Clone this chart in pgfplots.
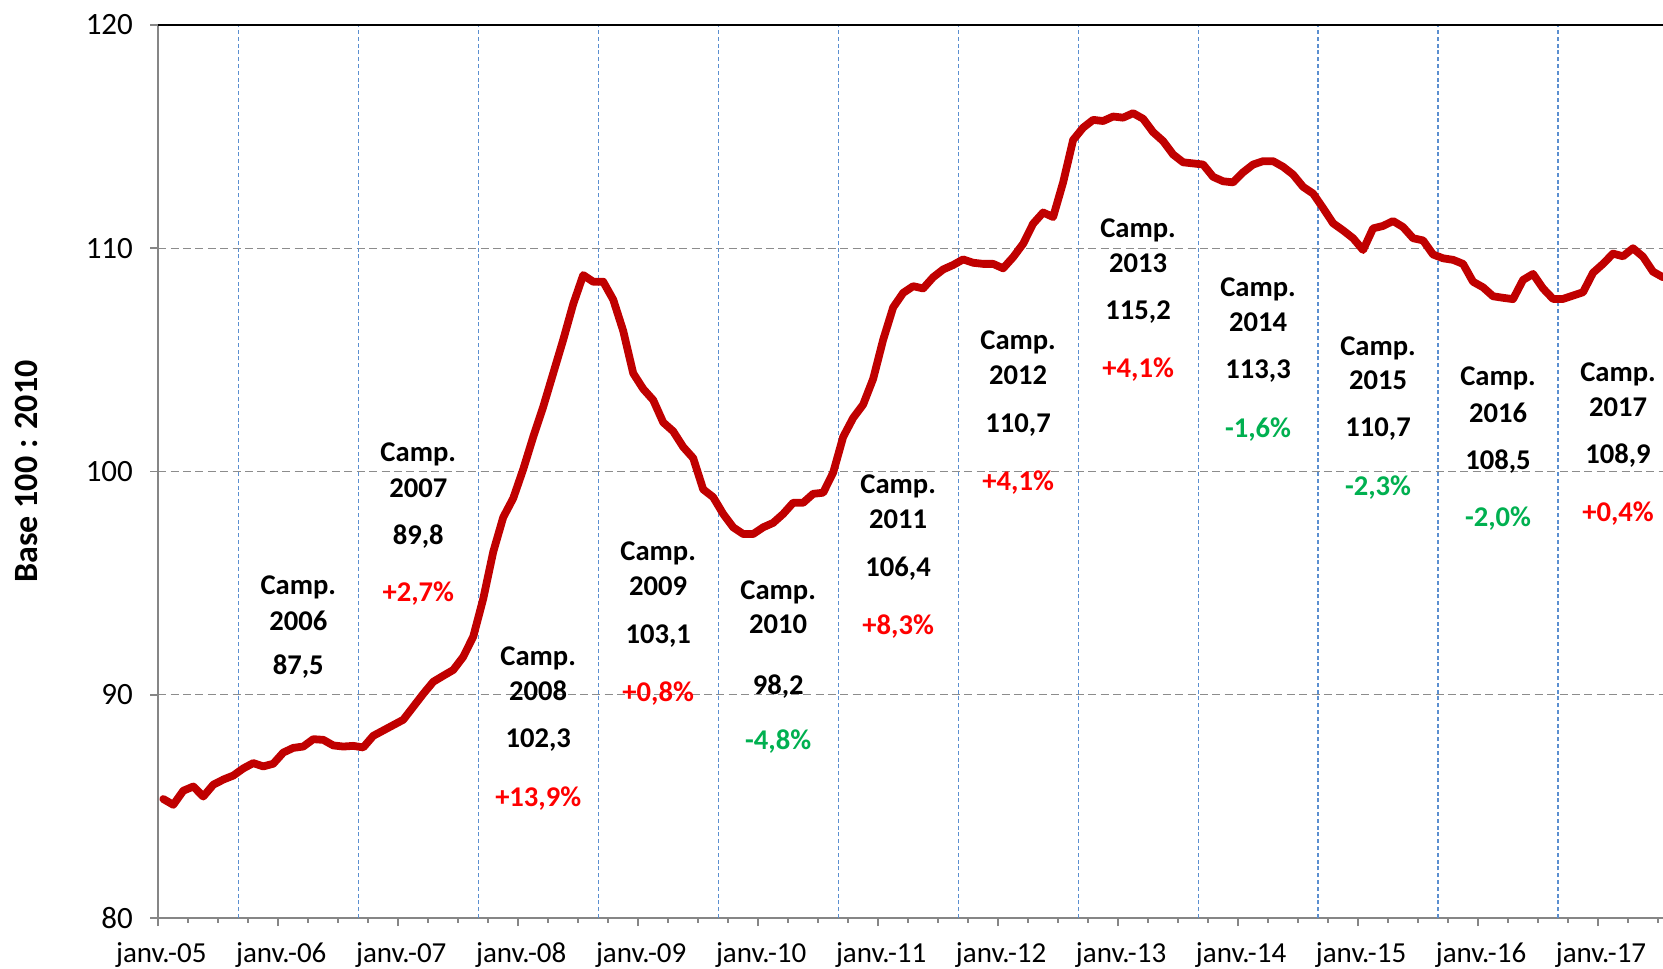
\documentclass[border=0pt]{standalone}
\usepackage{fontspec}
\setmainfont{Carlito}
\usepackage{pgfplots}
\pgfplotsset{compat=1.18}
\usepackage{pgfplotstable}
\definecolor{lred}{HTML}{C00000}
\definecolor{pred}{HTML}{FF0000}
\definecolor{pgreen}{HTML}{00B050}
\definecolor{gridgray}{HTML}{8C8C8C}
\definecolor{axgray}{HTML}{868686}
\definecolor{vblue}{HTML}{5B8FD0}

\pgfplotstableread{
m v
0 85.33
1 85.07
2 85.70
3 85.89
4 85.44
5 85.97
6 86.20
7 86.38
8 86.70
9 86.94
10 86.79
11 86.91
12 87.41
13 87.62
14 87.68
15 88.01
16 87.98
17 87.73
18 87.68
19 87.71
20 87.64
21 88.16
22 88.40
23 88.64
24 88.88
25 89.46
26 90.04
27 90.58
28 90.85
29 91.11
30 91.70
31 92.60
32 94.30
33 96.40
34 97.95
35 98.80
36 100.10
37 101.55
38 102.90
39 104.40
40 105.90
41 107.50
42 108.80
43 108.50
44 108.50
45 107.70
46 106.30
47 104.40
48 103.70
49 103.20
50 102.20
51 101.80
52 101.10
53 100.60
54 99.20
55 98.85
56 98.10
57 97.50
58 97.20
59 97.20
60 97.50
61 97.70
62 98.10
63 98.60
64 98.60
65 99.00
66 99.05
67 99.95
68 101.55
69 102.40
70 103.00
71 104.15
72 105.90
73 107.35
74 108.00
75 108.30
76 108.20
77 108.70
78 109.05
79 109.25
80 109.50
81 109.35
82 109.30
83 109.30
84 109.10
85 109.60
86 110.20
87 111.10
88 111.60
89 111.40
90 112.95
91 114.85
92 115.40
93 115.75
94 115.70
95 115.90
96 115.85
97 116.05
98 115.80
99 115.20
100 114.80
101 114.20
102 113.85
103 113.80
104 113.75
105 113.20
106 113.00
107 112.95
108 113.40
109 113.75
110 113.90
111 113.90
112 113.65
113 113.30
114 112.75
115 112.45
116 111.80
117 111.12
118 110.80
119 110.45
120 109.92
121 110.89
122 111.00
123 111.22
124 110.95
125 110.45
126 110.35
127 109.72
128 109.55
129 109.48
130 109.30
131 108.50
132 108.25
133 107.85
134 107.78
135 107.72
136 108.58
137 108.85
138 108.20
139 107.73
140 107.73
141 107.88
142 108.03
143 108.90
144 109.30
145 109.76
146 109.64
147 110.00
148 109.62
149 108.95
150 108.70
}\prix

\newcommand\annfont{\fontsize{14.3bp}{17bp}\selectfont\bfseries}
\newcommand\camp[8]{%
  \node[font=\annfont, yshift=-1.6bp] at (axis cs:#1,#2) {Camp.};
  \node[font=\annfont, yshift=-1.6bp] at (axis cs:#1,#3) {#6};
  \node[font=\annfont, yshift=-1.6bp] at (axis cs:#1,#4) {#7};
  \node[font=\annfont, yshift=-1.6bp] at (axis cs:#1,#5) {#8};
}

\begin{document}
\begin{tikzpicture}
\path[use as bounding box] (-79.15bp,-25.5bp) rectangle (752.35bp,459bp);
\begin{axis}[
  name=ax,
  anchor=south west, at={(0,0)},
  scale only axis,
  width=752.35bp, height=446.5bp,
  xmin=-0.5, xmax=150, ymin=80, ymax=120,
  axis lines*=left,
  axis line style={axgray, line width=1bp},
  tick style={axgray, line width=0.8bp},
  tick align=outside,
  major tick length=4bp,
  minor tick length=2.4bp,
  xtick={-0.5,11.5,...,143.5},
  xticklabels={janv.-05,janv.-06,janv.-07,janv.-08,janv.-09,janv.-10,janv.-11,janv.-12,janv.-13,janv.-14,janv.-15,janv.-16,janv.-17},
  minor xtick={2.5,5.5,...,149.5},
  ytick={80,90,100,110,120},
  ymajorgrids,
  major grid style={gridgray, line width=0.7bp, dash pattern=on 4bp off 2.2bp},
  extra x ticks={7.5,19.5,...,139.5},
  extra x tick labels={},
  extra x tick style={grid=major, major tick length=0pt,
     major grid style={vblue, line width=0.6bp, dash pattern=on 2bp off 1.4bp}},
  /pgf/number format/assume math mode=true,
  tick label style={font=\fontsize{14.5bp}{16bp}\selectfont, black},
  xticklabel style={anchor=base, yshift=-18.4bp, xshift=1.5bp, inner sep=0pt},
  yticklabel style={font=\fontsize{15.5bp}{17bp}\selectfont, anchor=east, xshift=-8.5bp, inner sep=0pt},
  ylabel={Base 100 : 2010},
  ylabel style={font=\fontsize{17bp}{19bp}\selectfont\bfseries, at={(axis description cs:-0.0877,0.5)}, anchor=center, rotate=0},
]
\addplot[lred, line width=3.9bp, line join=round, line cap=round, mark=none] table[x=m, y=v] {\prix};

\camp{13.5}{94.94}{93.47}{91.39}{80}{2006}{87,5}{}
\camp{25.5}{100.93}{99.41}{97.23}{94.67}{2007}{89,8}{\textcolor{pred}{+2,7\%}}
\camp{37.5}{91.78}{90.31}{88.12}{85.51}{2008}{102,3}{\textcolor{pred}{+13,9\%}}
\camp{49.5}{96.47}{95.00}{92.77}{90.21}{2009}{103,1}{\textcolor{pred}{+0,8\%}}
\camp{61.5}{94.72}{93.30}{90.50}{88.03}{2010}{98,2}{\textcolor{pgreen}{-4,8\%}}
\camp{73.5}{99.46}{97.99}{95.81}{93.20}{2011}{106,4}{\textcolor{pred}{+8,3\%}}
\camp{85.5}{105.92}{104.45}{102.22}{99.66}{2012}{110,7}{\textcolor{pred}{+4,1\%}}
\camp{97.5}{110.95}{109.48}{107.30}{104.69}{2013}{115,2}{\textcolor{pred}{+4,1\%}}
\camp{109.5}{108.29}{106.82}{104.64}{102.03}{2014}{113,3}{\textcolor{pgreen}{-1,6\%}}
\camp{121.5}{105.68}{104.21}{102.03}{99.42}{2015}{110,7}{\textcolor{pgreen}{-2,3\%}}
\camp{133.5}{104.31}{102.79}{100.60}{98.04}{2016}{108,5}{\textcolor{pgreen}{-2,0\%}}
\camp{145.5}{104.50}{103.03}{100.84}{98.28}{2017}{108,9}{\textcolor{pred}{+0,4\%}}
\end{axis}
\draw[black, line width=0.9bp] (ax.north west) -- (ax.north east);
\end{tikzpicture}
\end{document}
